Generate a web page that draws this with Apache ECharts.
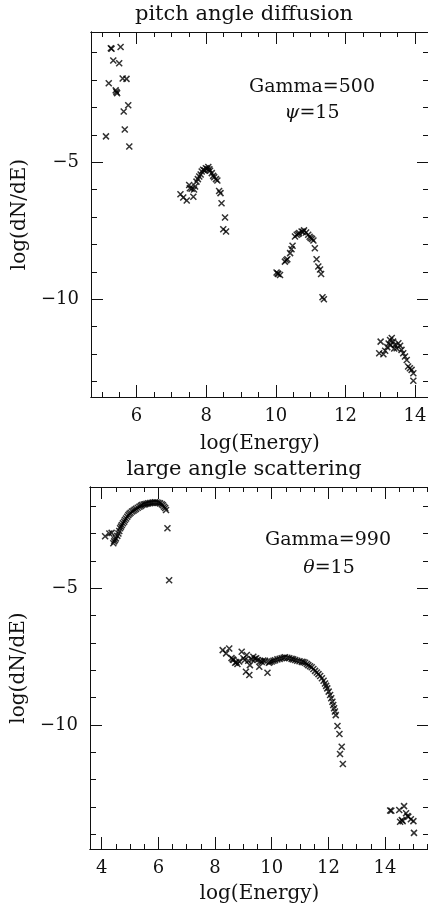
<!DOCTYPE html>
<html>
<head>
<meta charset="utf-8">
<script src="https://cdn.jsdelivr.net/npm/echarts@6/dist/echarts.min.js"></script>
<style>
html, body { margin: 0; padding: 0; background: #fff; }
#chart { width: 428px; height: 908px; }
</style>
</head>
<body>
<div id="chart"></div>
<script>
// pitch angle diffusion, Gamma=500  [log(Energy), log(dN/dE)]
var pitchPeak1 = [[5.26,-0.84],[5.28,-0.86],[5.54,-0.80],[5.33,-1.29],[5.50,-1.39],[5.20,-2.12],[5.60,-1.95],[5.71,-1.96],
    [5.40,-2.38],[5.44,-2.48],[5.42,-2.44],[5.76,-2.92],[5.63,-3.15],[5.12,-4.06],[5.66,-3.81],[5.79,-4.43]];
var pitchPeak2 = [[7.26,-6.17],[7.34,-6.29],[7.44,-6.40],[7.51,-5.83],[7.53,-5.95],[7.58,-5.97],[7.63,-6.26],[7.65,-6.00],
    [7.68,-5.89],[7.72,-5.71],[7.76,-5.62],[7.80,-5.52],[7.84,-5.45],[7.87,-5.34],[7.91,-5.28],[7.95,-5.30],[7.99,-5.22],
    [8.03,-5.25],[8.06,-5.18],[8.09,-5.26],[8.11,-5.31],[8.16,-5.40],[8.20,-5.50],[8.23,-5.55],[8.28,-5.62],[8.32,-5.67],
    [8.37,-6.05],[8.41,-6.13],[8.44,-6.50],[8.54,-7.02],[8.49,-7.45],[8.57,-7.53]];
var pitchPeak3 = [[10.02,-9.03],[10.05,-9.06],[10.07,-9.08],[10.12,-9.12],[10.26,-8.63],[10.30,-8.58],[10.33,-8.54],
    [10.41,-8.32],[10.45,-8.18],[10.48,-8.05],[10.55,-7.71],[10.60,-7.65],[10.64,-7.62],[10.67,-7.59],[10.74,-7.53],
    [10.78,-7.55],[10.81,-7.49],[10.87,-7.57],[10.93,-7.65],[10.97,-7.72],[11.00,-7.77],[11.04,-7.80],[11.08,-7.86],
    [11.12,-8.14],[11.17,-8.54],[11.22,-8.81],[11.27,-8.92],[11.30,-9.08],[11.34,-9.93],[11.38,-10.00]];
var pitchPeak4 = [[13.01,-11.55],[12.97,-11.97],[13.09,-12.01],[13.14,-11.88],[13.20,-11.75],[13.24,-11.62],[13.28,-11.49],
    [13.30,-11.68],[13.33,-11.42],[13.37,-11.55],[13.40,-11.80],[13.42,-11.67],[13.47,-11.79],[13.52,-11.61],[13.57,-11.70],
    [13.61,-11.85],[13.66,-11.97],[13.71,-12.09],[13.76,-12.22],[13.80,-12.46],[13.85,-12.52],[13.90,-12.58],[13.95,-12.70],
    [13.95,-12.98]];

// large angle scattering, Gamma=990
var largePeak1 = [[4.12,-3.09],[4.27,-2.99],[4.35,-2.97],[4.41,-3.35],[4.44,-3.28],[4.47,-3.23],[4.50,-3.17],[4.55,-3.08],
    [4.59,-2.99],[4.62,-2.90],[4.65,-2.80],[4.68,-2.74],[4.71,-2.68],[4.75,-2.62],[4.79,-2.56],[4.82,-2.50],[4.86,-2.44],
    [4.90,-2.38],[4.94,-2.32],[4.98,-2.27],[5.02,-2.23],[5.07,-2.19],[5.12,-2.16],[5.16,-2.12],[5.21,-2.09],[5.27,-2.05],
    [5.33,-2.01],[5.38,-1.98],[5.42,-1.95],[5.48,-1.93],[5.53,-1.92],[5.58,-1.90],[5.64,-1.89],[5.70,-1.88],[5.76,-1.87],
    [5.82,-1.86],[5.88,-1.85],[5.94,-1.86],[6.00,-1.87],[6.06,-1.89],[6.12,-1.92],[6.16,-1.96],[6.20,-2.01],[6.24,-2.06],
    [6.27,-2.13],[6.32,-2.80],[6.38,-4.70]];
var largePeak2 = [[8.27,-7.26],[8.50,-7.20],[8.39,-7.38],[8.58,-7.55],[8.62,-7.60],[8.65,-7.62],[8.71,-7.72],[8.75,-7.70],
    [8.79,-7.77],[8.85,-7.68],[8.94,-7.32],[9.00,-7.56],[9.05,-7.62],[9.12,-7.44],[9.17,-7.65],[9.23,-7.81],[9.09,-8.05],
    [9.21,-8.17],[9.30,-7.60],[9.35,-7.50],[9.40,-7.58],[9.45,-7.56],[9.50,-7.62],[9.56,-7.87],[9.60,-7.66],[9.65,-7.69],
    [9.70,-7.64],[9.76,-7.65],[9.85,-8.09],[9.90,-7.72],[9.94,-7.69],[10.00,-7.68],[10.06,-7.65],[10.12,-7.63],[10.20,-7.60],
    [10.28,-7.58],[10.35,-7.56],[10.42,-7.54],[10.47,-7.52],[10.55,-7.54],[10.62,-7.56],[10.70,-7.58],[10.76,-7.60],
    [10.83,-7.62],[10.90,-7.65],[10.98,-7.67],[11.06,-7.69],[11.12,-7.70],[11.18,-7.72],[11.24,-7.77],[11.29,-7.81],
    [11.35,-7.85],[11.41,-7.89],[11.47,-7.95],[11.53,-8.02],[11.59,-8.08],[11.65,-8.14],[11.71,-8.21],[11.77,-8.29],
    [11.83,-8.38],[11.88,-8.48],[11.92,-8.57],[11.96,-8.66],[12.01,-8.78],[12.06,-8.90],[12.10,-9.02],[12.14,-9.15],
    [12.17,-9.27],[12.20,-9.39],[12.23,-9.51],[12.26,-9.64],[12.32,-10.04],[12.39,-10.33],[12.47,-10.80],[12.41,-11.06],
    [12.51,-11.43]];
var largePeak3 = [[14.18,-13.13],[14.22,-13.14],[14.50,-13.11],[14.67,-12.97],[14.59,-13.48],[14.53,-13.54],[14.62,-13.52],
    [14.74,-13.23],[14.79,-13.33],[14.82,-13.36],[14.91,-13.45],[15.00,-13.52],[15.02,-13.95]];

// axis ranges and ticks
var pitchRangeX = [4.69, 14.40];
var pitchRangeY = [-13.57, -0.25];
var largeRangeX = [3.587, 15.55];
var largeRangeY = [-14.54, -1.29];

var pitchMajorX = [6, 8, 10, 12, 14];
var pitchMinorX = [5, 5.5, 6, 6.5, 7, 7.5, 8, 8.5, 9, 9.5, 10, 10.5, 11, 11.5, 12, 12.5, 13, 13.5, 14];
var pitchMajorY = [-5, -10];
var pitchMinorY = [-1, -2, -3, -4, -5, -6, -7, -8, -9, -10, -11, -12, -13];
var largeMajorX = [4, 6, 8, 10, 12, 14];
var largeMinorX = [4, 4.5, 5, 5.5, 6, 6.5, 7, 7.5, 8, 8.5, 9, 9.5, 10, 10.5, 11, 11.5, 12, 12.5, 13, 13.5, 14, 14.5, 15, 15.5];
var largeMajorY = [-5, -10];
var largeMinorY = [-2, -3, -4, -5, -6, -7, -8, -9, -10, -11, -12, -13, -14];

var FONT = '"DejaVu Serif", "Liberation Serif", serif';
var INK = '#111';

function minus(v) {
    return String(v).replace('-', '\u2212');
}

// one axis of the frame; only the first grid of a plot gets labels
function frameAxis(grid, pos, range, ticks, len, labels, name, gap) {
    var axis = {
        gridIndex: grid,
        type: 'value',
        position: pos,
        min: range[0],
        max: range[1],
        axisLine: { show: true, onZero: false, lineStyle: { color: INK, width: 1 } },
        axisTick: { show: true, inside: true, length: len, customValues: ticks, lineStyle: { color: INK, width: 1 } },
        splitLine: { show: false },
        axisLabel: { show: false }
    };
    if (labels) {
        axis.axisLabel = {
            show: true,
            customValues: labels,
            margin: pos == 'left' ? 12 : 10,
            color: INK,
            fontFamily: FONT,
            fontSize: 18,
            formatter: minus
        };
        axis.name = name;
        axis.nameLocation = 'middle';
        axis.nameGap = gap;
        if (pos == 'left') axis.nameRotate = 90;
        axis.nameTextStyle = { color: INK, fontFamily: FONT, fontSize: 20 };
    }
    return axis;
}

var grids = [
    { left: 91, top: 32, width: 338, height: 365 },
    { left: 91, top: 32, width: 338, height: 365 },
    { left: 90, top: 487, width: 339, height: 362 },
    { left: 90, top: 487, width: 339, height: 362 }
];
grids.forEach(function (g) {
    g.containLabel = false;
    g.outerBoundsMode = 'none';
});

var xAxes = [
    frameAxis(0, 'bottom', pitchRangeX, pitchMajorX, 12, pitchMajorX, 'log(Energy)', 37),
    frameAxis(0, 'top', pitchRangeX, pitchMajorX, 12),
    frameAxis(1, 'bottom', pitchRangeX, pitchMinorX, 5),
    frameAxis(1, 'top', pitchRangeX, pitchMinorX, 5),
    frameAxis(2, 'bottom', largeRangeX, largeMajorX, 12, largeMajorX, 'log(Energy)', 35),
    frameAxis(2, 'top', largeRangeX, largeMajorX, 12),
    frameAxis(3, 'bottom', largeRangeX, largeMinorX, 5),
    frameAxis(3, 'top', largeRangeX, largeMinorX, 5)
];
var yAxes = [
    frameAxis(0, 'left', pitchRangeY, pitchMajorY, 12, pitchMajorY, 'log(dN/dE)', 60),
    frameAxis(0, 'right', pitchRangeY, pitchMajorY, 12),
    frameAxis(1, 'left', pitchRangeY, pitchMinorY, 6),
    frameAxis(1, 'right', pitchRangeY, pitchMinorY, 6),
    frameAxis(2, 'left', largeRangeY, largeMajorY, 12, largeMajorY, 'log(dN/dE)', 61),
    frameAxis(2, 'right', largeRangeY, largeMajorY, 12),
    frameAxis(3, 'left', largeRangeY, largeMinorY, 6),
    frameAxis(3, 'right', largeRangeY, largeMinorY, 6)
];

var CROSS = 'path://M0,0L10,10M10,0L0,10';
function crosses(data, axisIndex) {
    return {
        type: 'scatter',
        xAxisIndex: axisIndex,
        yAxisIndex: axisIndex,
        symbol: CROSS,
        symbolSize: 6,
        itemStyle: { color: '#000', borderColor: '#000', borderWidth: 1.5 },
        data: data
    };
}

function label(text, x, y, size) {
    return {
        type: 'text',
        x: x,
        y: y,
        style: {
            text: text,
            font: size + 'px ' + FONT,
            fill: INK,
            align: 'center',
            verticalAlign: 'middle',
            textAlign: 'center',
            textVerticalAlign: 'middle',
            rich: { i: { fontStyle: 'italic', fontSize: size, fontFamily: FONT } }
        }
    };
}

var option = {
    backgroundColor: '#fff',
    animation: false,
    grid: grids,
    xAxis: xAxes,
    yAxis: yAxes,
    series: [
        crosses(pitchPeak1, 0), crosses(pitchPeak2, 0), crosses(pitchPeak3, 0), crosses(pitchPeak4, 0),
        crosses(largePeak1, 4), crosses(largePeak2, 4), crosses(largePeak3, 4)
    ],
    graphic: [
        label('pitch angle diffusion', 244, 15, 21),
        label('Gamma=500', 312, 87, 19),
        label('{i|ψ}=15', 312, 113, 19),
        label('large angle scattering', 244, 470, 21),
        label('Gamma=990', 328, 540, 19),
        label('{i|θ}=15', 329, 568, 19)
    ]
};

var chart = echarts.init(document.getElementById('chart'));
chart.setOption(option);
</script>
</body>
</html>
